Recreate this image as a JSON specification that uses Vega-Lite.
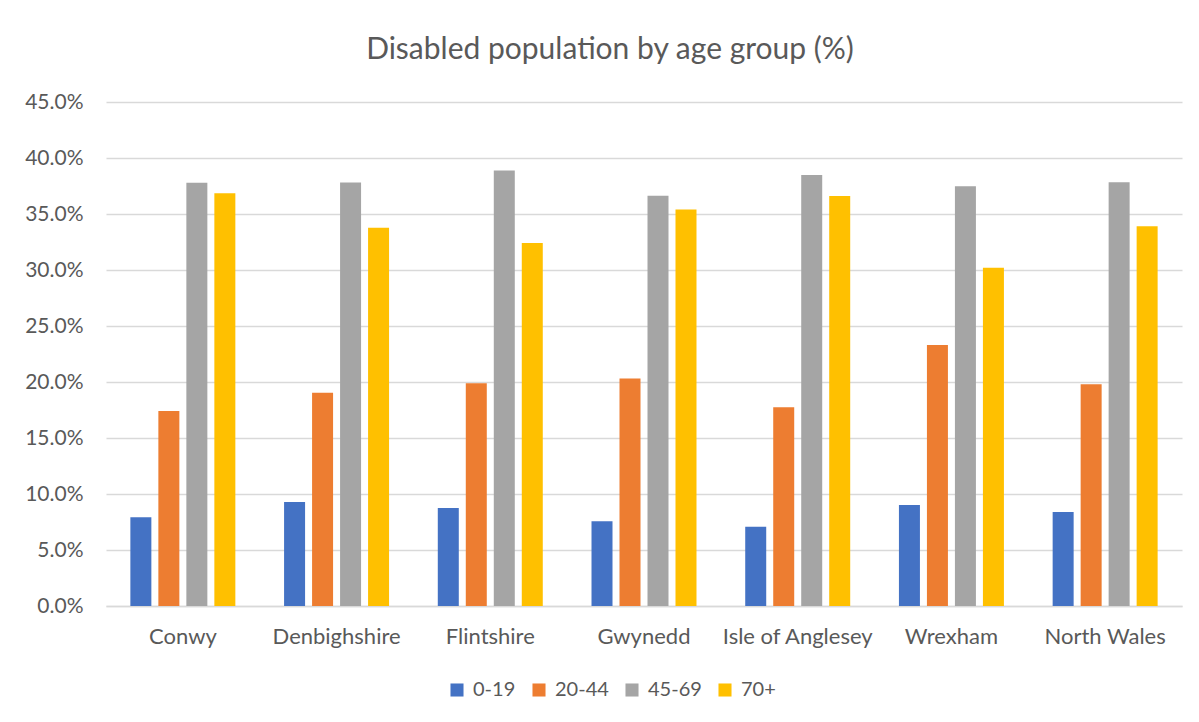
{
  "$schema": "https://vega.github.io/schema/vega-lite/v6.json",
  "width": 1076,
  "height": 504,
  "autosize": {"type": "none"},
  "padding": {"left": 106, "top": 102, "right": 17, "bottom": 116},
  "background": "white",
  "title": {
    "text": "Disabled population by age group (%)",
    "font": "Lato",
    "fontSize": 30,
    "fontWeight": "normal",
    "color": "#595959",
    "anchor": "middle",
    "frame": "group",
    "dx": -34,
    "offset": 26
  },
  "data": {
    "values": [
      {"region": "Conwy", "age": "0-19", "value": 0.0793},
      {"region": "Conwy", "age": "20-44", "value": 0.174},
      {"region": "Conwy", "age": "45-69", "value": 0.3778},
      {"region": "Conwy", "age": "70+", "value": 0.3686},
      {"region": "Denbighshire", "age": "0-19", "value": 0.0928},
      {"region": "Denbighshire", "age": "20-44", "value": 0.1903},
      {"region": "Denbighshire", "age": "45-69", "value": 0.3781},
      {"region": "Denbighshire", "age": "70+", "value": 0.3378},
      {"region": "Flintshire", "age": "0-19", "value": 0.0876},
      {"region": "Flintshire", "age": "20-44", "value": 0.1989},
      {"region": "Flintshire", "age": "45-69", "value": 0.3889},
      {"region": "Flintshire", "age": "70+", "value": 0.324},
      {"region": "Gwynedd", "age": "0-19", "value": 0.0756},
      {"region": "Gwynedd", "age": "20-44", "value": 0.2032},
      {"region": "Gwynedd", "age": "45-69", "value": 0.3664},
      {"region": "Gwynedd", "age": "70+", "value": 0.3541},
      {"region": "Isle of Anglesey", "age": "0-19", "value": 0.0707},
      {"region": "Isle of Anglesey", "age": "20-44", "value": 0.1774},
      {"region": "Isle of Anglesey", "age": "45-69", "value": 0.3849},
      {"region": "Isle of Anglesey", "age": "70+", "value": 0.3661},
      {"region": "Wrexham", "age": "0-19", "value": 0.0901},
      {"region": "Wrexham", "age": "20-44", "value": 0.233},
      {"region": "Wrexham", "age": "45-69", "value": 0.3747},
      {"region": "Wrexham", "age": "70+", "value": 0.3019},
      {"region": "North Wales", "age": "0-19", "value": 0.0839},
      {"region": "North Wales", "age": "20-44", "value": 0.198},
      {"region": "North Wales", "age": "45-69", "value": 0.3784},
      {"region": "North Wales", "age": "70+", "value": 0.3391}
    ]
  },
  "mark": {"type": "bar"},
  "encoding": {
    "x": {
      "field": "region",
      "type": "nominal",
      "sort": null,
      "scale": {"paddingInner": 0.317, "paddingOuter": 0.1585},
      "axis": {
        "title": null,
        "labelAngle": 0,
        "labelFont": "Lato",
        "labelFontSize": 22,
        "labelColor": "#595959",
        "ticks": false,
        "domainColor": "#D9D9D9",
        "domainWidth": 1.5,
        "labelPadding": 20
      }
    },
    "xOffset": {
      "field": "age",
      "type": "nominal",
      "scale": {"paddingInner": 0.25, "paddingOuter": 0}
    },
    "y": {
      "field": "value",
      "type": "quantitative",
      "scale": {"domain": [0, 0.45], "nice": false},
      "axis": {
        "title": null,
        "values": [0, 0.05, 0.1, 0.15, 0.2, 0.25, 0.3, 0.35, 0.4, 0.45],
        "format": ".1%",
        "labelFont": "Lato",
        "labelFontSize": 21,
        "labelColor": "#595959",
        "ticks": false,
        "domain": false,
        "gridColor": "#D9D9D9",
        "gridWidth": 1.5,
        "labelPadding": 23
      }
    },
    "color": {
      "field": "age",
      "type": "nominal",
      "scale": {
        "domain": ["0-19", "20-44", "45-69", "70+"],
        "range": ["#4472C4", "#ED7D31", "#A5A5A5", "#FFC000"]
      },
      "legend": {
        "title": null,
        "orient": "none",
        "legendX": 341,
        "legendY": 578,
        "direction": "horizontal",
        "symbolType": "square",
        "symbolSize": 170,
        "symbolStrokeWidth": 0,
        "labelFont": "Lato",
        "labelFontSize": 20,
        "labelColor": "#595959",
        "labelOffset": 6,
        "columnPadding": 13
      }
    }
  },
  "config": {"view": {"stroke": null}}
}
